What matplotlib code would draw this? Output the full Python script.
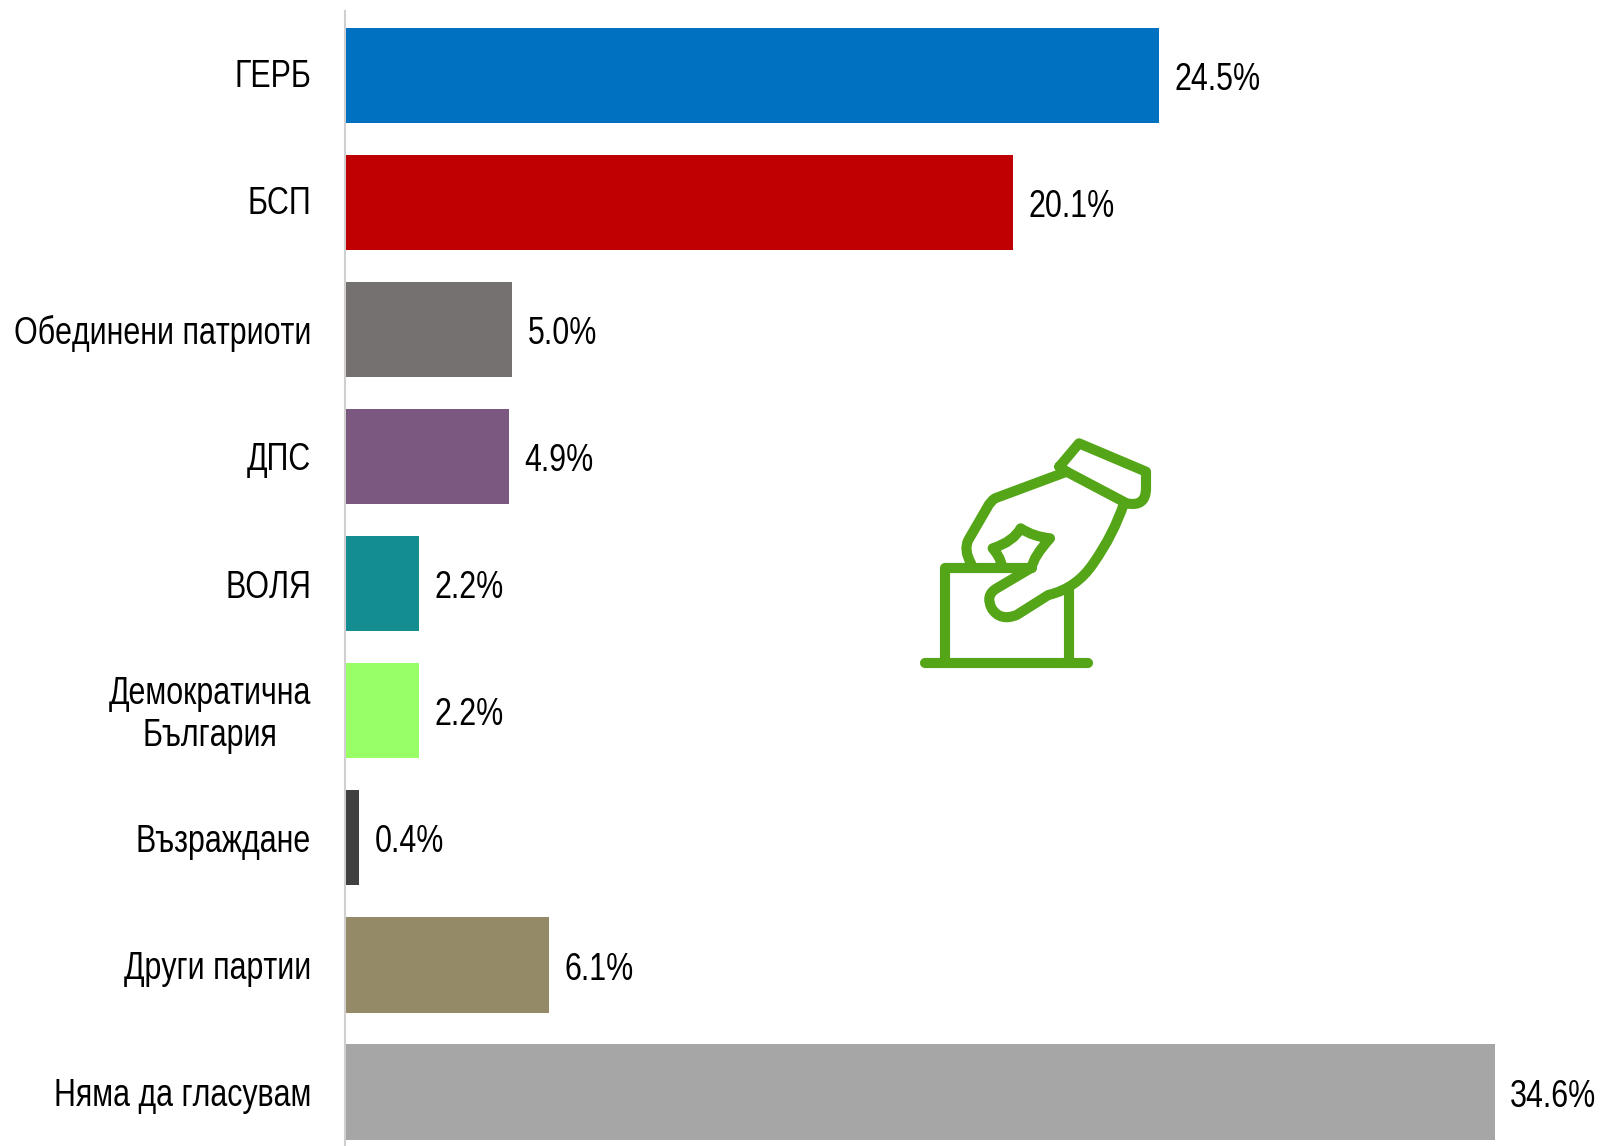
#!/usr/bin/env python3
import matplotlib
matplotlib.use('Agg')
import matplotlib.pyplot as plt
from matplotlib.path import Path
from matplotlib.patches import PathPatch
from matplotlib.transforms import ScaledTranslation
from matplotlib import font_manager
from fontTools.ttLib import TTFont

parties = ['ГЕРБ', 'БСП', 'Обединени патриоти', 'ДПС', 'ВОЛЯ',
           'Демократична\nБългария', 'Възраждане', 'Други партии', 'Няма да гласувам']
values = [24.5, 20.1, 5.0, 4.9, 2.2, 2.2, 0.4, 6.1, 34.6]
colors = ['#0070C0', '#C00000', '#767171', '#7A5880', '#138D90',
          '#99FF66', '#404040', '#948A68', '#A6A6A6']


def narrow_font(scale=0.81):
    # no narrow Arial here, so squeeze Liberation Sans sideways
    src = font_manager.findfont('Liberation Sans')
    font = TTFont(src)
    glyf = font['glyf']
    for name in font.getGlyphOrder():
        g = glyf[name]
        if g.isComposite():
            for comp in g.components:
                comp.x = round(comp.x * scale)
        elif g.numberOfContours > 0:
            g.coordinates.scale((scale, 1))
            g.coordinates.toInt()
            g.program.fromBytecode(b'')
        adv, lsb = font['hmtx'][name]
        font['hmtx'][name] = (round(adv * scale), round(lsb * scale))
    for name in font.getGlyphOrder():
        glyf[name].recalcBounds(glyf)
    for tag in ['fpgm', 'prep', 'cvt ', 'hdmx', 'VDMX', 'LTSH', 'GPOS', 'GSUB', 'GDEF', 'kern']:
        if tag in font:
            del font[tag]
    for rec in font['name'].names:
        if rec.nameID in (1, 4, 16):
            rec.string = 'Squeezed Sans'
        elif rec.nameID == 6:
            rec.string = 'SqueezedSans-Regular'
    font.save('squeezed.ttf')
    font_manager.fontManager.addfont('squeezed.ttf')
    return 'Squeezed Sans'


plt.rcParams['font.family'] = [narrow_font(), 'Liberation Sans', 'DejaVu Sans']

W, H = 1602, 1146
LEFT = 346
fig = plt.figure(figsize=(W / 100, H / 100), dpi=100)
ax = fig.add_axes([LEFT / W, 0, (W - LEFT) / W, (H - 11) / H])

# spine position first, it resets the ticks
for s in ['top', 'right', 'bottom']:
    ax.spines[s].set_visible(False)
ax.spines['left'].set_color('#D0CECE')
ax.spines['left'].set_linewidth(1.5)
ax.spines['left'].set_position(('outward', 0.72))

ax.barh(range(len(values)), values, height=0.75, color=colors, zorder=3)
ax.set_xlim(0, 37.83)
ax.set_ylim(8.425, -0.505)
ax.set_xticks([])
ax.set_yticks(range(len(parties)))
ax.set_yticklabels(parties, fontsize=27, multialignment='center')
ax.tick_params(axis='y', length=0, pad=24.5)

# first two labels and the two-line one sit a little higher in the original
up = ScaledTranslation(0, 2.5 / 100, fig.dpi_scale_trans)
for i in [0, 1, 5]:
    lab = ax.get_yticklabels()[i]
    lab.set_transform(lab.get_transform() + up)

for i, v in enumerate(values):
    ax.annotate('%.1f%%' % v, (v, i), xytext=(11.2, -0.5), textcoords='offset points',
                fontsize=27, va='center_baseline', ha='left')

# ballot icon, coordinates are in a 840x780 box
icon = fig.add_axes([900 / W, (H - 680) / H, 280 / W, 260 / H])
icon.set_xlim(0, 840)
icon.set_ylim(780, 0)
icon.axis('off')
green = '#54A618'
M, L, C = Path.MOVETO, Path.LINETO, Path.CURVE3
shapes = [
    ([(75, 730), (565, 730)], [M, L]),
    ([(135, 730), (135, 443), (395, 443)], [M, L, L]),
    ([(507, 730), (507, 510)], [M, L]),
    ([(478, 140), (537, 70), (738, 155), (738, 205), (738, 262), (680, 250), (500, 155), (478, 140)],
     [M, L, L, L, C, C, L, L]),
    ([(500, 155), (285, 235), (270, 245), (262, 262), (205, 360), (190, 390), (213, 430)],
     [M, L, C, C, L, C, C]),
    ([(672, 250), (640, 345), (580, 430), (530, 505), (445, 525), (350, 585),
      (300, 605), (275, 565), (255, 525), (290, 505), (395, 443)],
     [M, C, C, C, C, L, C, C, C, C, L]),
    ([(395, 443), (400, 410), (450, 355), (400, 350), (362, 325), (340, 365), (278, 385),
      (300, 410), (305, 435)],
     [M, C, C, C, C, C, C, C, C]),
]
for verts, codes in shapes:
    icon.add_patch(PathPatch(Path(verts, codes), fill=False, edgecolor=green, lw=7.3,
                             capstyle='round', joinstyle='round'))

fig.savefig('out.png', dpi=100)
